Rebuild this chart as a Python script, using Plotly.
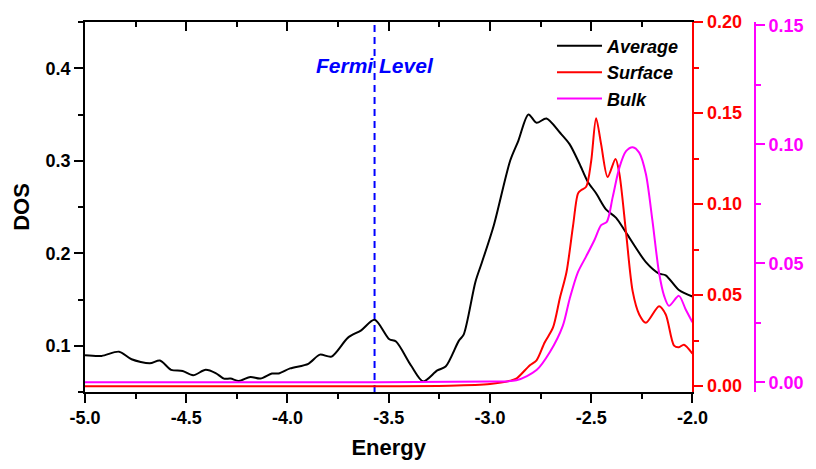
import plotly.graph_objects as go

# Energy grid (eV) and densities of states read per curve
avg_energy = [-5.0, -4.918, -4.832, -4.77, -4.68, -4.63, -4.575, -4.518, -4.466, -4.404,
              -4.355, -4.314, -4.281, -4.24, -4.183, -4.134, -4.077, -4.044, -3.987, -3.897,
              -3.84, -3.783, -3.701, -3.636, -3.57, -3.497, -3.464, -3.39, -3.33, -3.26,
              -3.219, -3.154, -3.13, -3.072, -3.04, -2.982, -2.9, -2.86, -2.81, -2.77,
              -2.721, -2.655, -2.607, -2.558, -2.517, -2.476, -2.426, -2.377, -2.328, -2.23,
              -2.165, -2.132, -2.067, -2.0]
avg_dos = [0.0897, 0.089, 0.0936, 0.0854, 0.081, 0.084, 0.074, 0.0727, 0.0681, 0.074,
           0.0705, 0.0645, 0.0645, 0.062, 0.0663, 0.0645, 0.07, 0.07, 0.0755, 0.0805,
           0.0904, 0.0883, 0.1088, 0.1167, 0.128, 0.107, 0.1046, 0.0787, 0.0615, 0.0734,
           0.0775, 0.1053, 0.112, 0.169, 0.19, 0.2295, 0.3003, 0.3216, 0.35, 0.341,
           0.3457, 0.3305, 0.318, 0.2968, 0.2773, 0.2649, 0.2471, 0.2383, 0.2223, 0.1904,
           0.178, 0.1762, 0.1603, 0.1532]

surf_energy = [-5.0, -4.0, -3.2, -3.0, -2.9, -2.868, -2.803, -2.77, -2.73, -2.689,
               -2.655, -2.622, -2.59, -2.565, -2.549, -2.525, -2.5, -2.476, -2.451, -2.419,
               -2.38, -2.361, -2.328, -2.295, -2.263, -2.23, -2.165, -2.132, -2.091, -2.067,
               -2.042, -2.0]
surf_dos = [0.0, 0.0, 0.0003, 0.0012, 0.003, 0.0043, 0.0115, 0.0142, 0.024, 0.0321,
            0.0483, 0.0627, 0.0879, 0.1059, 0.1077, 0.1095, 0.1238, 0.1472, 0.1328, 0.1149,
            0.1248, 0.1167, 0.0843, 0.0519, 0.0394, 0.0348, 0.0439, 0.0394, 0.0223, 0.0214,
            0.0228, 0.0178]

bulk_energy = [-5.0, -4.0, -3.0, -2.87, -2.77, -2.704, -2.64, -2.607, -2.567, -2.525,
               -2.484, -2.451, -2.423, -2.394, -2.361, -2.328, -2.295, -2.263, -2.23, -2.198,
               -2.165, -2.14, -2.116, -2.067, -2.034, -2.0]
bulk_dos = [0.0, 0.0, 0.0003, 0.0008, 0.0051, 0.0127, 0.0238, 0.0349, 0.046, 0.0529,
            0.0598, 0.066, 0.0674, 0.0778, 0.0902, 0.0971, 0.0988, 0.0965, 0.0875, 0.0681,
            0.046, 0.0363, 0.0321, 0.0363, 0.0307, 0.0252]

fermi_level = -3.57

x_ticks = [-5.0, -4.5, -4.0, -3.5, -3.0, -2.5, -2.0]
x_tick_labels = ["-5.0", "-4.5", "-4.0", "-3.5", "-3.0", "-2.5", "-2.0"]

FONT = "Liberation Sans, Arial, sans-serif"
RED = "#ff0000"
MAGENTA = "#ff00ff"
BLUE = "#0000ff"

fig = go.Figure()
fig.add_trace(go.Scatter(x=avg_energy, y=avg_dos, name="Average", mode="lines",
                         line=dict(color="black", width=2, shape="spline", smoothing=0.8)))
fig.add_trace(go.Scatter(x=surf_energy, y=surf_dos, name="Surface", mode="lines",
                         line=dict(color=RED, width=2, shape="spline", smoothing=0.8),
                         yaxis="y2"))
fig.add_trace(go.Scatter(x=bulk_energy, y=bulk_dos, name="Bulk", mode="lines",
                         line=dict(color=MAGENTA, width=2, shape="spline", smoothing=0.8),
                         yaxis="y3"))
# empty trace carrying the top frame axis
fig.add_trace(go.Scatter(x=[], y=[], xaxis="x2", showlegend=False, hoverinfo="skip"))

dom_end = 612 / 675

tick_font = dict(family=FONT, size=18, weight="bold", color="black")

fig.update_layout(
    width=816, height=469,
    margin=dict(l=85, r=56, t=16, b=77),
    plot_bgcolor="white", paper_bgcolor="white",
    font=dict(family=FONT, color="black"),
    showlegend=True,
    legend=dict(x=0.697, y=0.985, xanchor="left", yanchor="top",
                bgcolor="rgba(0,0,0,0)", itemwidth=45,
                font=dict(family=FONT, size=18, weight="bold", style="italic", color="black")),
    xaxis=dict(domain=[0, dom_end], range=[-5.0, -2.0], tickvals=x_ticks, ticktext=x_tick_labels,
               showgrid=False, zeroline=False, showline=True, linecolor="black", linewidth=1.6,
               ticks="outside", ticklen=9, tickwidth=1.6, tickcolor="black",
               minor=dict(dtick=0.25, tick0=-5.0, ticks="outside", ticklen=5, tickwidth=1.6,
                          tickcolor="black", showgrid=False),
               tickfont=tick_font,
               title=dict(text="Energy", font=dict(family=FONT, size=22, weight="bold", color="black"),
                          standoff=12)),
    xaxis2=dict(domain=[0, dom_end], range=[-5.0, -2.0], overlaying="x", side="top", anchor="y",
                tickvals=x_ticks, showticklabels=False, showgrid=False, zeroline=False,
                showline=True, linecolor="black", linewidth=1.6,
                ticks="inside", ticklen=9, tickwidth=1.6, tickcolor="black",
                minor=dict(dtick=0.25, tick0=-5.0, ticks="inside", ticklen=5, tickwidth=1.6,
                           tickcolor="black", showgrid=False)),
    yaxis=dict(range=[0.05, 0.45], tickvals=[0.1, 0.2, 0.3, 0.4], tickformat=".1f",
               showgrid=False, zeroline=False, showline=True, linecolor="black", linewidth=1.6,
               ticks="outside", ticklen=9, tickwidth=1.6, tickcolor="black",
               minor=dict(dtick=0.05, tick0=0, ticks="outside", ticklen=5, tickwidth=1.6,
                          tickcolor="black", showgrid=False),
               tickfont=tick_font,
               title=dict(text="DOS", font=dict(family=FONT, size=22, weight="bold", color="black"),
                          standoff=10)),
    yaxis2=dict(range=[-0.0032, 0.2], overlaying="y", side="right", anchor="x",
                dtick=0.05, tick0=0, tickformat=".2f",
                showgrid=False, zeroline=False, showline=True, linecolor=RED, linewidth=2,
                ticks="outside", ticklen=9, tickwidth=1.6, tickcolor=RED,
                minor=dict(dtick=0.025, tick0=0, ticks="outside", ticklen=5, tickwidth=1.6,
                           tickcolor=RED, showgrid=False),
                tickfont=dict(family=FONT, size=18, weight="bold", color=RED)),
    yaxis3=dict(range=[-0.0041, 0.1514], overlaying="y", side="right", anchor="free", position=1.0,
                dtick=0.05, tick0=0, tickformat=".2f",
                showgrid=False, zeroline=False, showline=True, linecolor=MAGENTA, linewidth=2,
                ticks="outside", ticklen=9, tickwidth=1.6, tickcolor=MAGENTA,
                minor=dict(dtick=0.025, tick0=0, ticks="outside", ticklen=5, tickwidth=1.6,
                           tickcolor=MAGENTA, showgrid=False),
                tickfont=dict(family=FONT, size=18, weight="bold", color=MAGENTA)),
)

# Fermi level marker
fig.add_shape(type="line", xref="x", yref="paper", x0=fermi_level, x1=fermi_level, y0=0, y1=1,
              line=dict(color=BLUE, width=2, dash="7px,5px"), layer="below")
fig.add_annotation(x=fermi_level, y=0.882, xref="x", yref="paper", text="Fermi Level",
                   showarrow=False, xanchor="center", yanchor="middle",
                   font=dict(family=FONT, size=21, weight="bold", style="italic", color=BLUE))

fig.write_html("out.html")
